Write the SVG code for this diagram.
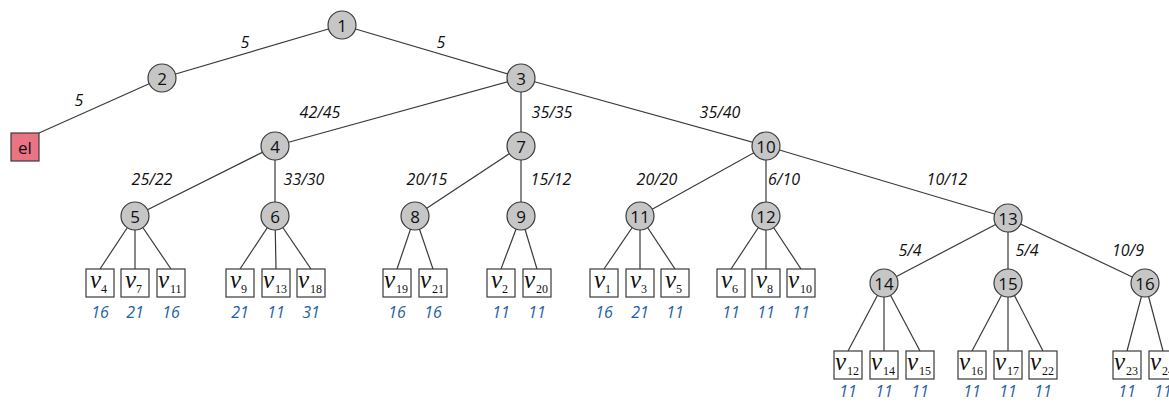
<svg xmlns="http://www.w3.org/2000/svg" width="1169" height="402" viewBox="0 0 1169 402">
<style>
.e{stroke:#3a3a3a;stroke-width:1.2;fill:none}
.n{fill:#c6c6c6;stroke:#3a3a3a;stroke-width:1.2}
.nt{font-family:"Open Sans","Liberation Sans",sans-serif;font-size:17px;fill:#111;text-anchor:middle;dominant-baseline:central}
.l{fill:#fff;stroke:#3a3a3a;stroke-width:1.2}
.nu{font-family:"Liberation Serif",serif;font-style:italic;font-size:25px;fill:#111}
.sb{font-family:"Liberation Serif",serif;font-size:12px;fill:#111}
.w{font-family:"Open Sans","Liberation Sans",sans-serif;font-style:italic;font-size:16px;fill:#111;text-anchor:middle}
.v{font-family:"Open Sans","Liberation Sans",sans-serif;font-style:italic;font-size:16px;fill:#1f5fa6;text-anchor:middle}
</style>
<defs>
<rect id="lb" x="-14" y="-14" width="28" height="28" class="l"/>
</defs>
<g id="connectors">
<line class="e" x1="39" y1="133" x2="162" y2="78"/>
<line class="e" x1="342" y1="25" x2="162" y2="78"/>
<line class="e" x1="342" y1="25" x2="521" y2="78"/>
<line class="e" x1="521" y1="78" x2="275" y2="146"/>
<line class="e" x1="521" y1="78" x2="521" y2="146"/>
<line class="e" x1="521" y1="78" x2="766" y2="146"/>
<line class="e" x1="275" y1="146" x2="135" y2="216"/>
<line class="e" x1="275" y1="146" x2="275" y2="216"/>
<line class="e" x1="521" y1="146" x2="415" y2="216"/>
<line class="e" x1="521" y1="146" x2="521" y2="216"/>
<line class="e" x1="766" y1="146" x2="640" y2="216"/>
<line class="e" x1="766" y1="146" x2="766" y2="216"/>
<line class="e" x1="766" y1="146" x2="1008" y2="218"/>
<line class="e" x1="1008" y1="218" x2="884" y2="283"/>
<line class="e" x1="1008" y1="218" x2="1008" y2="283"/>
<line class="e" x1="1008" y1="218" x2="1145" y2="283"/>
<line class="e" x1="135" y1="216" x2="100" y2="269"/>
<line class="e" x1="135" y1="216" x2="135" y2="269"/>
<line class="e" x1="135" y1="216" x2="171" y2="269"/>
<line class="e" x1="275" y1="216" x2="240" y2="269"/>
<line class="e" x1="275" y1="216" x2="276" y2="269"/>
<line class="e" x1="275" y1="216" x2="311" y2="269"/>
<line class="e" x1="415" y1="216" x2="397" y2="269"/>
<line class="e" x1="415" y1="216" x2="433" y2="269"/>
<line class="e" x1="521" y1="216" x2="501" y2="269"/>
<line class="e" x1="521" y1="216" x2="537" y2="269"/>
<line class="e" x1="640" y1="216" x2="604" y2="269"/>
<line class="e" x1="640" y1="216" x2="640" y2="269"/>
<line class="e" x1="640" y1="216" x2="675" y2="269"/>
<line class="e" x1="766" y1="216" x2="731" y2="269"/>
<line class="e" x1="766" y1="216" x2="766" y2="269"/>
<line class="e" x1="766" y1="216" x2="801" y2="269"/>
<line class="e" x1="884" y1="283" x2="848" y2="351"/>
<line class="e" x1="884" y1="283" x2="884" y2="351"/>
<line class="e" x1="884" y1="283" x2="920" y2="351"/>
<line class="e" x1="1008" y1="283" x2="972" y2="351"/>
<line class="e" x1="1008" y1="283" x2="1008" y2="351"/>
<line class="e" x1="1008" y1="283" x2="1043" y2="351"/>
<line class="e" x1="1145" y1="283" x2="1127" y2="351"/>
<line class="e" x1="1145" y1="283" x2="1163" y2="351"/>
</g>
<g id="edge-labels">
<text class="w" x="245" y="48">5</text>
<text class="w" x="79" y="106">5</text>
<text class="w" x="441" y="48">5</text>
<text class="w" x="320" y="118">42/45</text>
<text class="w" x="552" y="118">35/35</text>
<text class="w" x="720" y="118">35/40</text>
<text class="w" x="152" y="185">25/22</text>
<text class="w" x="304" y="185">33/30</text>
<text class="w" x="427" y="185">20/15</text>
<text class="w" x="551" y="185">15/12</text>
<text class="w" x="657" y="185">20/20</text>
<text class="w" x="784" y="185">6/10</text>
<text class="w" x="947" y="185">10/12</text>
<text class="w" x="910" y="256">5/4</text>
<text class="w" x="1027" y="256">5/4</text>
<text class="w" x="1128" y="256">10/9</text>
</g>
<g id="el"><rect x="11" y="133" width="28" height="28" fill="#ea7384" stroke="#3a3a3a" stroke-width="1.2"/><text class="nt" x="25" y="147">el</text></g>
<g id="n1"><circle class="n" cx="342" cy="25" r="14"/><text class="nt" x="342" y="25">1</text></g>
<g id="n2"><circle class="n" cx="162" cy="78" r="14"/><text class="nt" x="162" y="78">2</text></g>
<g id="n3"><circle class="n" cx="521" cy="78" r="14"/><text class="nt" x="521" y="78">3</text></g>
<g id="n4"><circle class="n" cx="275" cy="146" r="14"/><text class="nt" x="275" y="146">4</text></g>
<g id="n7"><circle class="n" cx="521" cy="146" r="14"/><text class="nt" x="521" y="146">7</text></g>
<g id="n10"><circle class="n" cx="766" cy="146" r="14"/><text class="nt" x="766" y="146">10</text></g>
<g id="n5"><circle class="n" cx="135" cy="216" r="14"/><text class="nt" x="135" y="216">5</text></g>
<g id="n6"><circle class="n" cx="275" cy="216" r="14"/><text class="nt" x="275" y="216">6</text></g>
<g id="n8"><circle class="n" cx="415" cy="216" r="14"/><text class="nt" x="415" y="216">8</text></g>
<g id="n9"><circle class="n" cx="521" cy="216" r="14"/><text class="nt" x="521" y="216">9</text></g>
<g id="n11"><circle class="n" cx="640" cy="216" r="14"/><text class="nt" x="640" y="216">11</text></g>
<g id="n12"><circle class="n" cx="766" cy="216" r="14"/><text class="nt" x="766" y="216">12</text></g>
<g id="n13"><circle class="n" cx="1008" cy="218" r="14"/><text class="nt" x="1008" y="218">13</text></g>
<g id="n14"><circle class="n" cx="884" cy="283" r="14"/><text class="nt" x="884" y="283">14</text></g>
<g id="n15"><circle class="n" cx="1008" cy="283" r="14"/><text class="nt" x="1008" y="283">15</text></g>
<g id="n16"><circle class="n" cx="1145" cy="283" r="14"/><text class="nt" x="1145" y="283">16</text></g>
<g id="v4" transform="translate(100,283)"><use href="#lb"/><text class="nu" x="-10" y="5">ν</text><text class="sb" x="1" y="10">4</text><text class="v" x="0" y="35">16</text></g>
<g id="v7" transform="translate(135,283)"><use href="#lb"/><text class="nu" x="-10" y="5">ν</text><text class="sb" x="1" y="10">7</text><text class="v" x="0" y="35">21</text></g>
<g id="v11" transform="translate(171,283)"><use href="#lb"/><text class="nu" x="-13" y="5">ν</text><text class="sb" x="-1" y="10">11</text><text class="v" x="0" y="35">16</text></g>
<g id="v9" transform="translate(240,283)"><use href="#lb"/><text class="nu" x="-10" y="5">ν</text><text class="sb" x="1" y="10">9</text><text class="v" x="0" y="35">21</text></g>
<g id="v13" transform="translate(276,283)"><use href="#lb"/><text class="nu" x="-13" y="5">ν</text><text class="sb" x="-1" y="10">13</text><text class="v" x="0" y="35">11</text></g>
<g id="v18" transform="translate(311,283)"><use href="#lb"/><text class="nu" x="-13" y="5">ν</text><text class="sb" x="-1" y="10">18</text><text class="v" x="0" y="35">31</text></g>
<g id="v19" transform="translate(397,283)"><use href="#lb"/><text class="nu" x="-13" y="5">ν</text><text class="sb" x="-1" y="10">19</text><text class="v" x="0" y="35">16</text></g>
<g id="v21" transform="translate(433,283)"><use href="#lb"/><text class="nu" x="-13" y="5">ν</text><text class="sb" x="-1" y="10">21</text><text class="v" x="0" y="35">16</text></g>
<g id="v2" transform="translate(501,283)"><use href="#lb"/><text class="nu" x="-10" y="5">ν</text><text class="sb" x="1" y="10">2</text><text class="v" x="0" y="35">11</text></g>
<g id="v20" transform="translate(537,283)"><use href="#lb"/><text class="nu" x="-13" y="5">ν</text><text class="sb" x="-1" y="10">20</text><text class="v" x="0" y="35">11</text></g>
<g id="v1" transform="translate(604,283)"><use href="#lb"/><text class="nu" x="-10" y="5">ν</text><text class="sb" x="1" y="10">1</text><text class="v" x="0" y="35">16</text></g>
<g id="v3" transform="translate(640,283)"><use href="#lb"/><text class="nu" x="-10" y="5">ν</text><text class="sb" x="1" y="10">3</text><text class="v" x="0" y="35">21</text></g>
<g id="v5" transform="translate(675,283)"><use href="#lb"/><text class="nu" x="-10" y="5">ν</text><text class="sb" x="1" y="10">5</text><text class="v" x="0" y="35">11</text></g>
<g id="v6" transform="translate(731,283)"><use href="#lb"/><text class="nu" x="-10" y="5">ν</text><text class="sb" x="1" y="10">6</text><text class="v" x="0" y="35">11</text></g>
<g id="v8" transform="translate(766,283)"><use href="#lb"/><text class="nu" x="-10" y="5">ν</text><text class="sb" x="1" y="10">8</text><text class="v" x="0" y="35">11</text></g>
<g id="v10" transform="translate(801,283)"><use href="#lb"/><text class="nu" x="-13" y="5">ν</text><text class="sb" x="-1" y="10">10</text><text class="v" x="0" y="35">11</text></g>
<g id="v12" transform="translate(848,365)"><use href="#lb"/><text class="nu" x="-13" y="5">ν</text><text class="sb" x="-1" y="10">12</text><text class="v" x="0" y="32">11</text></g>
<g id="v14" transform="translate(884,365)"><use href="#lb"/><text class="nu" x="-13" y="5">ν</text><text class="sb" x="-1" y="10">14</text><text class="v" x="0" y="32">11</text></g>
<g id="v15" transform="translate(920,365)"><use href="#lb"/><text class="nu" x="-13" y="5">ν</text><text class="sb" x="-1" y="10">15</text><text class="v" x="0" y="32">11</text></g>
<g id="v16" transform="translate(972,365)"><use href="#lb"/><text class="nu" x="-13" y="5">ν</text><text class="sb" x="-1" y="10">16</text><text class="v" x="0" y="32">11</text></g>
<g id="v17" transform="translate(1008,365)"><use href="#lb"/><text class="nu" x="-13" y="5">ν</text><text class="sb" x="-1" y="10">17</text><text class="v" x="0" y="32">11</text></g>
<g id="v22" transform="translate(1043,365)"><use href="#lb"/><text class="nu" x="-13" y="5">ν</text><text class="sb" x="-1" y="10">22</text><text class="v" x="0" y="32">11</text></g>
<g id="v23" transform="translate(1127,365)"><use href="#lb"/><text class="nu" x="-13" y="5">ν</text><text class="sb" x="-1" y="10">23</text><text class="v" x="0" y="32">11</text></g>
<g id="v24" transform="translate(1163,365)"><use href="#lb"/><text class="nu" x="-13" y="5">ν</text><text class="sb" x="-1" y="10">24</text><text class="v" x="0" y="32">11</text></g>
</svg>
